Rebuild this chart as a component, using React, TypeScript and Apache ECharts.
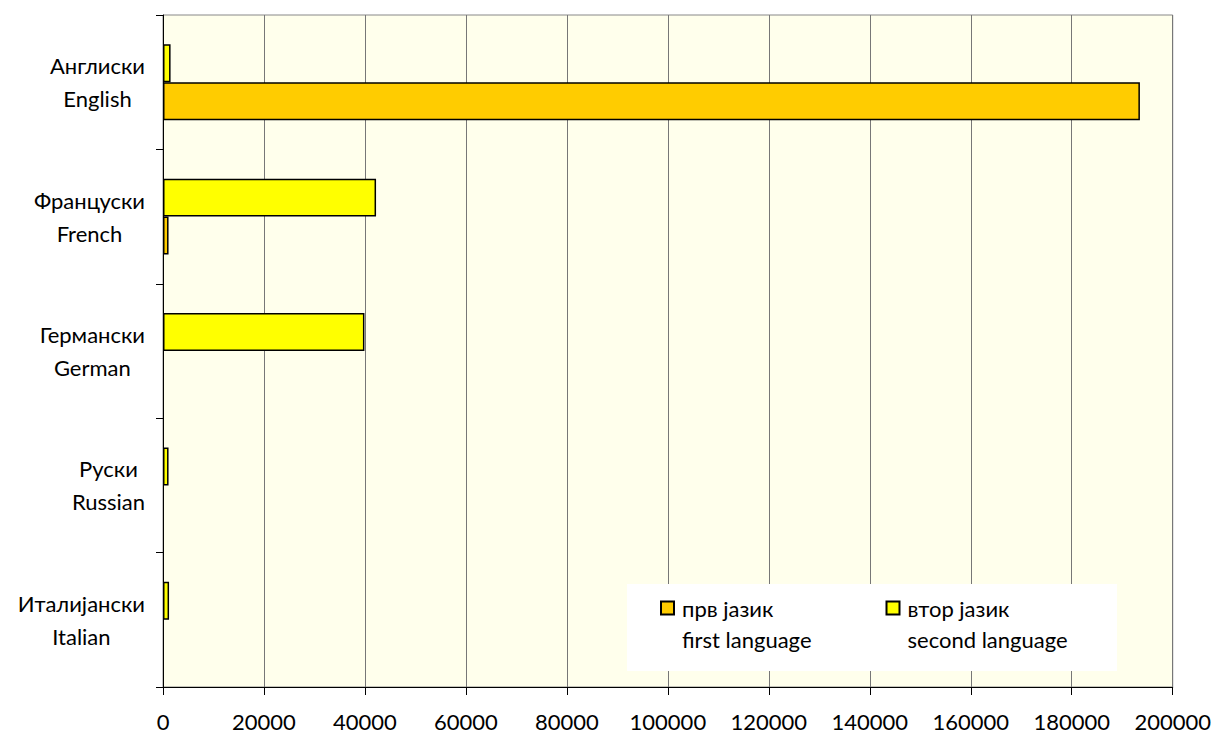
import React, { useEffect, useRef } from "react";
import * as echarts from "echarts";

const languagesMk = ["Англиски", "Француски", "Германски", "Руски", "Италијански"];
const languagesEn = ["English", "French", "German", "Russian", "Italian"];
const firstLanguage = [193500, 1100, 0, 0, 0];
const secondLanguage = [1500, 42200, 39900, 1100, 1200];
const seriesMk = ["прв јазик", "втор јазик"];
const seriesEn = ["first language", "second language"];
const xTicks = { min: 0, max: 200000, interval: 20000 };

const FONT = "Lato, 'Open Sans', sans-serif";

export default function App() {
  const ref = useRef<HTMLDivElement>(null);
  useEffect(() => {
    document.body.style.margin = "0";
    const chart = echarts.init(ref.current!, null, { renderer: "svg" });
    const categories = languagesMk.map((m, i) => m + "\n" + languagesEn[i]);
    const noZero = (arr: number[]) => arr.map((v) => (v === 0 ? null : v));
    chart.setOption({
      animation: false,
      backgroundColor: "#ffffff",
      textStyle: { fontFamily: FONT },
      grid: {
        left: 163,
        right: 41,
        top: 15,
        bottom: 48,
        show: true,
        backgroundColor: "#FFFFEC",
        borderColor: "#888888",
        borderWidth: 1,
      },
      graphic: [
        {
          type: "rect",
          z: 10,
          shape: { x: 627, y: 584, width: 490, height: 87 },
          style: { fill: "#ffffff" },
        },
      ],
      legend: {
        z: 20,
        left: 660,
        top: 566,
        padding: 0,
        orient: "horizontal",
        itemGap: 74,
        itemWidth: 13,
        itemHeight: 13,
        icon: "rect",
        data: [seriesMk[0], seriesMk[1]],
        formatter: (name: string) => {
          const i = seriesMk.indexOf(name);
          return "{b| }\n{a|" + name + "}\n{a|" + seriesEn[i] + "}";
        },
        textStyle: {
          fontFamily: FONT,
          fontSize: 22,
          color: "#000",
          rich: {
            a: { fontFamily: FONT, fontSize: 22, lineHeight: 31, color: "#000", padding: [0, 0, 0, 3] },
            b: { fontFamily: FONT, fontSize: 22, lineHeight: 31 },
          },
        },
      },
      xAxis: {
        type: "value",
        min: xTicks.min,
        max: xTicks.max,
        interval: xTicks.interval,
        axisLine: { show: true, lineStyle: { color: "#000", width: 1 } },
        axisTick: { show: true, length: 8, lineStyle: { color: "#000" } },
        splitLine: { show: true, lineStyle: { color: "#777", width: 1 } },
        axisLabel: {
          color: "#000",
          fontFamily: FONT,
          fontSize: 22,
          lineHeight: 18,
          margin: 25,
          formatter: (v: number) => String(v),
        },
      },
      yAxis: {
        type: "category",
        inverse: true,
        data: categories,
        axisLine: { show: true, lineStyle: { color: "#000", width: 1 } },
        axisTick: { show: true, length: 7, lineStyle: { color: "#000" } },
        axisLabel: {
          color: "#000",
          margin: 18,
          formatter: (v: string) => {
            const parts = v.split("\n");
            return "{c|" + parts[0] + "}\n{c|" + parts[1] + "}";
          },
          rich: {
            c: {
              align: "center",
              fontFamily: FONT,
              fontSize: 22,
              lineHeight: 33,
              color: "#000",
            },
          },
        },
      },
      series: [
        {
          name: seriesMk[1],
          type: "bar",
          data: noZero(secondLanguage),
          barGap: "0%",
          barCategoryGap: "43.5%",
          itemStyle: { color: "#FFFF00", borderColor: "#000", borderWidth: 1.5 },
        },
        {
          name: seriesMk[0],
          type: "bar",
          data: noZero(firstLanguage),
          barGap: "0%",
          barCategoryGap: "43.5%",
          itemStyle: { color: "#FFCC00", borderColor: "#000", borderWidth: 1.5 },
        },
      ],
    });
    return () => chart.dispose();
  }, []);
  return <div ref={ref} style={{ width: 1214, height: 735 }} />;
}
